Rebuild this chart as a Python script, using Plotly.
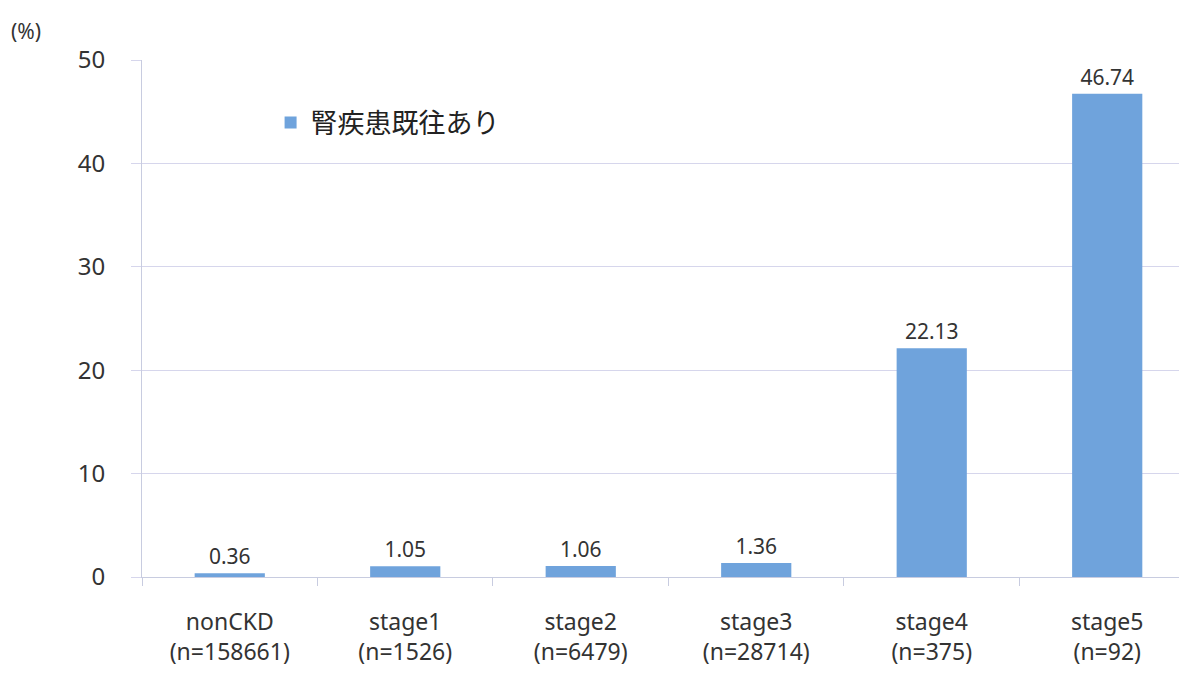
import plotly.graph_objects as go

categories = ["nonCKD<br>(n=158661)", "stage1<br>(n=1526)", "stage2<br>(n=6479)",
              "stage3<br>(n=28714)", "stage4<br>(n=375)", "stage5<br>(n=92)"]
values = [0.36, 1.05, 1.06, 1.36, 22.13, 46.74]
labels = ["0.36", "1.05", "1.06", "1.36", "22.13", "46.74"]
series_name = "腎疾患既往あり"

fig = go.Figure()
fig.add_trace(go.Bar(
    x=categories,
    y=values,
    name=series_name,
    width=0.4,
    marker=dict(color="#6fa3dc", line=dict(width=0)),
    text=labels,
    textposition="outside",
    textfont=dict(size=21, color="#333333", family="Noto Sans"),
    cliponaxis=False,
    showlegend=True,
))

# unit label top-left
fig.add_annotation(
    text="(%)", xref="paper", yref="paper", x=-0.112, y=1.056,
    xanchor="center", yanchor="middle", showarrow=False,
    font=dict(size=21, color="#333333", family="Noto Sans"),
)

# page body has an 8px margin, so the figure is a bit smaller and shifted
fig.update_layout(
    width=1171, height=659,
    margin=dict(l=134, r=0, t=52, b=90, autoexpand=False),
    plot_bgcolor="white",
    paper_bgcolor="white",
    font=dict(family="Noto Sans, Noto Sans CJK JP", color="#333333"),
    legend=dict(
        x=0.124, y=0.878, xanchor="left", yanchor="middle",
        font=dict(size=27, color="#222222", family="Noto Sans CJK JP"),
        bgcolor="rgba(0,0,0,0)",
        itemwidth=30,
    ),
    xaxis=dict(
        range=[-0.5, 5.409],
        automargin=False,
        showline=True, linecolor="#c8cce0", linewidth=1,
        ticks="outside", tickson="boundaries", ticklen=8, tickcolor="#c8cce0",
        tickfont=dict(size=23, color="#333333", family="Noto Sans"),
        ticklabelstandoff=24,
        showgrid=False,
    ),
    yaxis=dict(
        range=[0, 50], dtick=10,
        automargin=False,
        showgrid=True, gridcolor="#d6d6ec", gridwidth=1,
        showline=True, linecolor="#c8cce0", linewidth=1,
        ticks="outside", ticklen=10, tickcolor="#d6d6ec",
        tickfont=dict(size=24, color="#333333", family="Noto Sans"),
        ticklabelstandoff=21,
        zeroline=False,
    ),
)

fig.write_html("out.html")
